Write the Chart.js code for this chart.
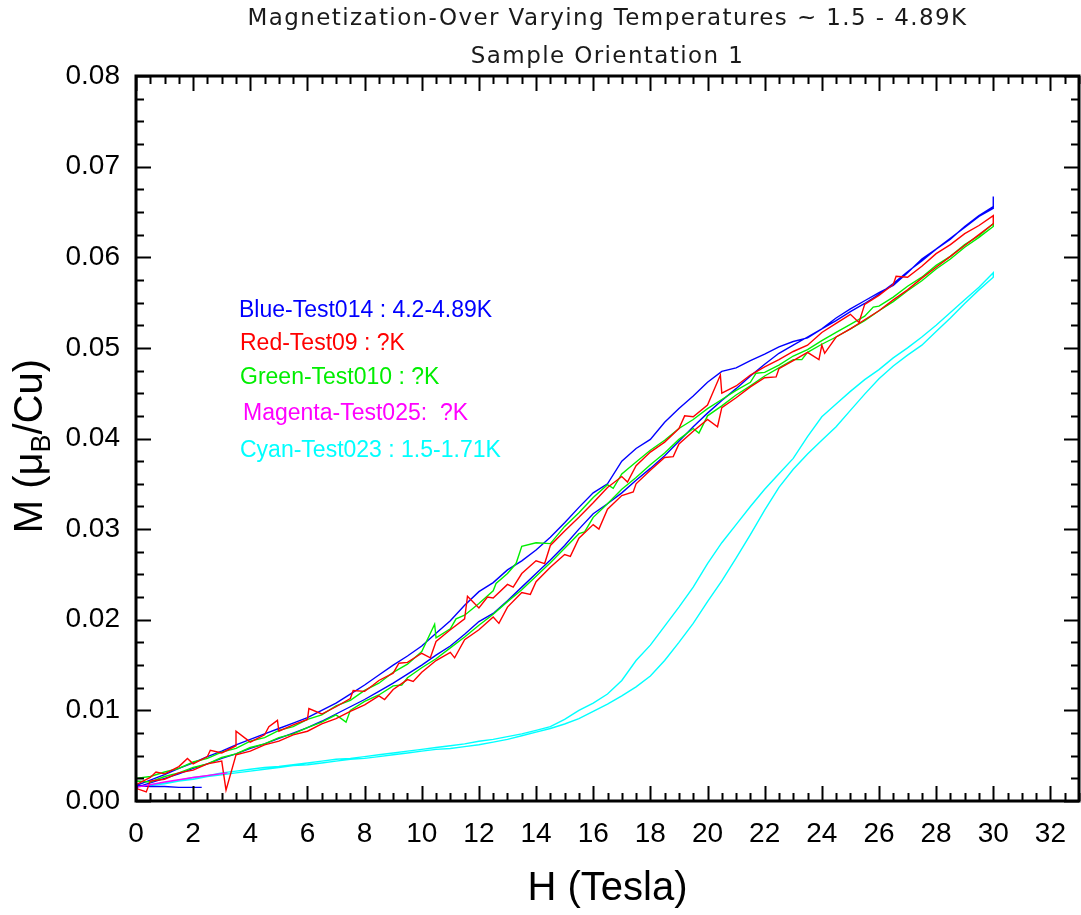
<!DOCTYPE html>
<html>
<head>
<meta charset="utf-8">
<script src="https://cdn.jsdelivr.net/npm/chart.js@4.4.1/dist/chart.umd.min.js"></script>
<style>
  html, body { margin: 0; padding: 0; background: #fff; }
</style>
</head>
<body>
<canvas id="chart" width="1081" height="915"></canvas>
<script>
// Field grid (Tesla), shared by every sweep branch
const fieldSteps = [0, 0.5, 1, 1.5, 2, 2.5, 3, 3.5, 4, 4.5, 5, 5.5, 6, 6.5, 7, 7.5, 8, 8.5, 9, 9.5,
  10, 10.5, 11, 11.5, 12, 12.5, 13, 13.5, 14, 14.5, 15, 15.5, 16, 16.5, 17, 17.5, 18, 18.5, 19, 19.5,
  20, 20.5, 21, 21.5, 22, 22.5, 23, 23.5, 24, 24.5, 25, 25.5, 26, 26.5, 27, 27.5, 28, 28.5, 29, 29.5, 30];
const fieldTicks = [0, 2, 4, 6, 8, 10, 12, 14, 16, 18, 20, 22, 24, 26, 28, 30, 32];

// Blue - Test014
const blueUpper = [.0017,.0023,.0029,.0036,.0042,.0049,.0055,.0062,.0068,.0074,
  .0080,.0086,.0092,.0100,.0108,.0118,.0128,.0139,.0150,.0160,
  .0171,.0185,.0199,.0216,.0231,.0241,.0255,.0265,.0277,.0291,
  .0307,.0324,.0340,.0350,.0375,.0389,.0399,.0418,.0433,.0447,
  .0462,.0474,.0478,.0486,.0493,.0501,.0507,.0511,.0521,.0533,
  .0543,.0552,.0561,.0569,.0583,.0598,.0609,.0620,.0634,.0646,
  .0656];
const blueLower = [.0015,.0020,.0025,.0030,.0036,.0041,.0047,.0052,.0058,.0063,
  .0069,.0075,.0081,.0088,.0096,.0104,.0112,.0121,.0130,.0140,
  .0150,.0161,.0171,.0184,.0198,.0207,.0221,.0236,.0251,.0266,
  .0282,.0300,.0317,.0328,.0340,.0354,.0367,.0381,.0397,.0413,
  .0428,.0442,.0455,.0469,.0482,.0494,.0503,.0512,.0521,.0530,
  .0540,.0549,.0559,.0571,.0584,.0596,.0609,.0621,.0633,.0645,
  .0654];
const blueUpperSpikes = [[30, 0.0667]];
const blueLowX = [0, 0.5, 1, 1.5, 2, 2.3];
const blueLowY = [0.0017, 0.0016, 0.0016, 0.0015, 0.0015, 0.0015];

// Red - Test09
const redUpper = [.0018,.0026,.0030,.0038,.0041,.0049,.0053,.0061,.0065,.0073,
  .0077,.0084,.0090,.0096,.0104,.0113,.0121,.0133,.0141,.0153,
  .0163,.0176,.0189,.0201,.0213,.0224,.0239,.0251,.0265,.0282,
  .0298,.0313,.0329,.0346,.0358,.0370,.0385,.0396,.0411,.0424,
  .0437,.0450,.0458,.0470,.0479,.0487,.0496,.0503,.0517,.0527,
  .0537,.0548,.0558,.0570,.0578,.0590,.0604,.0614,.0626,.0635,
  .0646];
const redLower = [.0014,.0022,.0024,.0031,.0034,.0041,.0044,.0051,.0055,.0062,
  .0066,.0073,.0077,.0085,.0091,.0099,.0106,.0116,.0123,.0134,
  .0142,.0155,.0164,.0178,.0189,.0203,.0214,.0230,.0242,.0258,
  .0272,.0290,.0305,.0322,.0337,.0350,.0365,.0379,.0394,.0408,
  .0421,.0434,.0445,.0457,.0467,.0477,.0486,.0495,.0503,.0512,
  .0521,.0531,.0541,.0553,.0564,.0577,.0589,.0601,.0613,.0625,
  .0637];
const redUpperSpikes = [[0.7, 0.0032], [1.8, 0.0047], [2.6, 0.0056], [3.5, 0.0077], [4.65, 0.0082],
  [4.95, 0.0089], [6.05, 0.0102], [7.6, 0.0122], [8.3, 0.0128], [9.2, 0.0152], [10.3, 0.0158],
  [11.6, 0.0226], [12.3, 0.0225], [13.2, 0.0236], [14.3, 0.0262], [17.2, 0.0352], [19.2, 0.0425],
  [20.45, 0.0470], [25.3, 0.0528], [26.6, 0.0579]];
const redLowerSpikes = [[0.36, 0.0010], [3.15, 0.0012], [8.7, 0.0112], [9.7, 0.0132], [11.15, 0.0158],
  [12.7, 0.0196], [13.8, 0.0228], [15.2, 0.0270], [16.2, 0.0300], [17.4, 0.0341], [18.8, 0.0380],
  [20.35, 0.0413], [22.4, 0.0468], [23.9, 0.0487], [24.1, 0.0494]];

// Green - Test010
const greenUpper = [.0025,.0027,.0032,.0036,.0043,.0047,.0054,.0058,.0066,.0070,
  .0078,.0082,.0090,.0095,.0105,.0111,.0122,.0130,.0142,.0151,
  .0165,.0180,.0190,.0205,.0218,.0232,.0251,.0281,.0285,.0284,
  .0303,.0318,.0335,.0349,.0361,.0374,.0387,.0398,.0411,.0421,
  .0433,.0443,.0453,.0462,.0473,.0481,.0491,.0498,.0508,.0517,
  .0526,.0535,.0546,.0556,.0568,.0578,.0591,.0601,.0614,.0624,
  .0637];
const greenLower = [.0022,.0021,.0027,.0031,.0037,.0041,.0048,.0052,.0059,.0063,
  .0070,.0074,.0081,.0087,.0095,.0100,.0110,.0117,.0127,.0136,
  .0147,.0157,.0169,.0181,.0194,.0206,.0220,.0233,.0248,.0263,
  .0279,.0295,.0313,.0328,.0344,.0357,.0371,.0384,.0399,.0411,
  .0425,.0436,.0448,.0458,.0469,.0478,.0487,.0495,.0504,.0512,
  .0521,.0530,.0541,.0551,.0563,.0574,.0587,.0598,.0611,.0622,
  .0634];
const greenUpperSpikes = [[10.45, 0.0195], [11.2, 0.0201], [12.6, 0.0240], [13.3, 0.0262],
  [16.7, 0.0345], [21.7, 0.0472], [25.8, 0.0545]];
const greenLowerSpikes = [[7.35, 0.0087], [9.3, 0.0128], [15.7, 0.0297], [19.7, 0.0406], [23.3, 0.0487]];

// Magenta - Test025
const magentaX = [0, 1, 2, 3.2];
const magentaY = [0.0015, 0.0021, 0.0026, 0.0031];

// Cyan - Test023
const cyanUpper = [.0016,.0018,.0020,.0023,.0026,.0028,.0031,.0033,.0035,.0037,
  .0038,.0040,.0042,.0044,.0046,.0047,.0049,.0051,.0053,.0055,
  .0057,.0059,.0061,.0063,.0066,.0068,.0071,.0074,.0078,.0082,
  .0090,.0100,.0108,.0118,.0133,.0155,.0172,.0193,.0214,.0236,
  .0262,.0285,.0305,.0325,.0344,.0361,.0378,.0402,.0424,.0438,
  .0452,.0465,.0476,.0489,.0500,.0512,.0525,.0539,.0553,.0567,
  .0583];
const cyanLower = [.0016,.0017,.0019,.0022,.0024,.0027,.0029,.0031,.0033,.0035,
  .0037,.0039,.0040,.0042,.0044,.0046,.0047,.0049,.0051,.0053,
  .0055,.0057,.0058,.0060,.0062,.0065,.0068,.0072,.0076,.0080,
  .0085,.0091,.0099,.0107,.0116,.0126,.0138,.0155,.0175,.0196,
  .0220,.0243,.0268,.0294,.0321,.0346,.0366,.0383,.0398,.0413,
  .0431,.0449,.0466,.0480,.0492,.0503,.0518,.0533,.0549,.0564,
  .0578];

const legendLines = [
  { text: "Blue-Test014 : 4.2-4.89K", color: "#0000ff" },
  { text: "Red-Test09 : ?K", color: "#ff0000" },
  { text: "Green-Test010 : ?K", color: "#00ee00" },
  { text: "Magenta-Test025:  ?K", color: "#ff00ff" },
  { text: "Cyan-Test023 : 1.5-1.71K", color: "#00ffff" },
];

// build one branch: grid points plus extra noise points, sorted by field
function branch(values, extras) {
  const pts = fieldSteps.map((x, i) => ({ x: x, y: values[i] }));
  (extras || []).forEach((p) => pts.push({ x: p[0], y: p[1] }));
  return pts.sort((a, b) => a.x - b.x);
}
// sweep up along the lower branch, back down along the upper one
function loop(lower, upper, lowerExtras, upperExtras) {
  return branch(lower, lowerExtras).concat(branch(upper, upperExtras).reverse());
}
function pairs(xs, ys) {
  return xs.map((x, i) => ({ x: x, y: ys[i] }));
}
function line(data, color) {
  return { data: data, borderColor: color, borderWidth: 1.4, pointRadius: 0, fill: false, tension: 0 };
}

const axisFont = "'Liberation Sans', Arial, sans-serif";

// frame, inward ticks, titles and coloured legend text
const decorations = {
  id: "decorations",
  afterDraw(chart) {
    const { ctx, chartArea: a, scales } = chart;
    const x = scales.x, y = scales.y;
    ctx.save();
    ctx.strokeStyle = "#000";
    ctx.lineWidth = 2;
    ctx.beginPath();
    for (let i = 0; i <= 66; i++) {
      const px = Math.round(x.getPixelForValue(i * 0.5)) + 0.5;
      const len = i % 4 === 0 ? 15 : 8;
      ctx.moveTo(px, a.bottom); ctx.lineTo(px, a.bottom - len);
      ctx.moveTo(px, a.top); ctx.lineTo(px, a.top + len);
    }
    for (let i = 0; i <= 32; i++) {
      const py = Math.round(y.getPixelForValue(i * 0.0025)) + 0.5;
      const len = i % 4 === 0 ? 15 : 8;
      ctx.moveTo(a.left, py); ctx.lineTo(a.left + len, py);
      ctx.moveTo(a.right, py); ctx.lineTo(a.right - len, py);
    }
    ctx.stroke();
    ctx.lineWidth = 3;
    ctx.strokeRect(a.left, a.top, a.right - a.left, a.bottom - a.top);

    // title
    const cx = (a.left + a.right) / 2;
    ctx.fillStyle = "#1a1a1a";
    ctx.textAlign = "center";
    ctx.textBaseline = "middle";
    ctx.font = "23px 'DejaVu Sans', Verdana, sans-serif";
    ctx.letterSpacing = "1.4px";
    ctx.fillText("Magnetization-Over Varying Temperatures ~ 1.5 - 4.89K", cx, 19);
    ctx.fillText("Sample Orientation 1", cx, 57);
    ctx.letterSpacing = "0px";

    // legend text
    ctx.textAlign = "left";
    ctx.font = "23px " + axisFont;
    const legendX = [239, 240, 240, 243, 240];
    const legendY = [311, 344, 378, 414, 451];
    legendLines.forEach((l, i) => {
      ctx.fillStyle = l.color;
      ctx.fillText(l.text, legendX[i], legendY[i]);
    });

    // y axis title with subscript
    ctx.fillStyle = "#000";
    ctx.translate(31, 446);
    ctx.rotate(-Math.PI / 2);
    const big = "40px " + axisFont, small = "27px " + axisFont;
    ctx.font = big;
    const p1 = "M (\u03bc", p3 = "/Cu)";
    const w1 = ctx.measureText(p1).width, w3 = ctx.measureText(p3).width;
    ctx.font = small;
    const w2 = ctx.measureText("B").width;
    const sx = -(w1 + w2 + w3) / 2;
    ctx.font = big;
    ctx.fillText(p1, sx, 0);
    ctx.font = small;
    ctx.fillText("B", sx + w1, 12);
    ctx.font = big;
    ctx.fillText(p3, sx + w1 + w2, 0);
    ctx.restore();
  },
};

new Chart(document.getElementById("chart"), {
  type: "line",
  data: {
    datasets: [
      line(pairs(magentaX, magentaY), "#ff00ff"),
      line(loop(redLower, redUpper, redLowerSpikes, redUpperSpikes), "#ff0000"),
      line(loop(greenLower, greenUpper, greenLowerSpikes, greenUpperSpikes), "#00ee00"),
      line(loop(blueLower, blueUpper, [], blueUpperSpikes), "#0000ff"),
      line(pairs(blueLowX, blueLowY), "#0000ff"),
      line(loop(cyanLower, cyanUpper), "#00ffff"),
    ],
  },
  options: {
    responsive: false,
    animation: false,
    layout: { padding: { left: 0, right: 2, top: 76, bottom: 0 } },
    plugins: { legend: { display: false }, tooltip: { enabled: false }, title: { display: false } },
    scales: {
      x: {
        type: "linear",
        min: 0,
        max: 33,
        grid: { display: false },
        border: { display: false },
        ticks: { padding: 8, color: "#000", font: { family: axisFont, size: 28 }, maxRotation: 0, autoSkip: false },
        afterBuildTicks: (scale) => { scale.ticks = fieldTicks.map((v) => ({ value: v })); },
        afterFit: (scale) => { scale.height = 114; },
        title: { display: true, text: "H (Tesla)", color: "#000", font: { family: axisFont, size: 40 }, padding: { top: 4, bottom: 2 } },
      },
      y: {
        min: 0,
        max: 0.08,
        grid: { display: false },
        border: { display: false },
        ticks: { stepSize: 0.01, padding: 8, color: "#000", font: { family: axisFont, size: 28 },
          callback: (v) => v.toFixed(2) },
        afterFit: (scale) => { scale.width = 136; },
      },
    },
  },
  plugins: [decorations],
});
</script>
</body>
</html>
